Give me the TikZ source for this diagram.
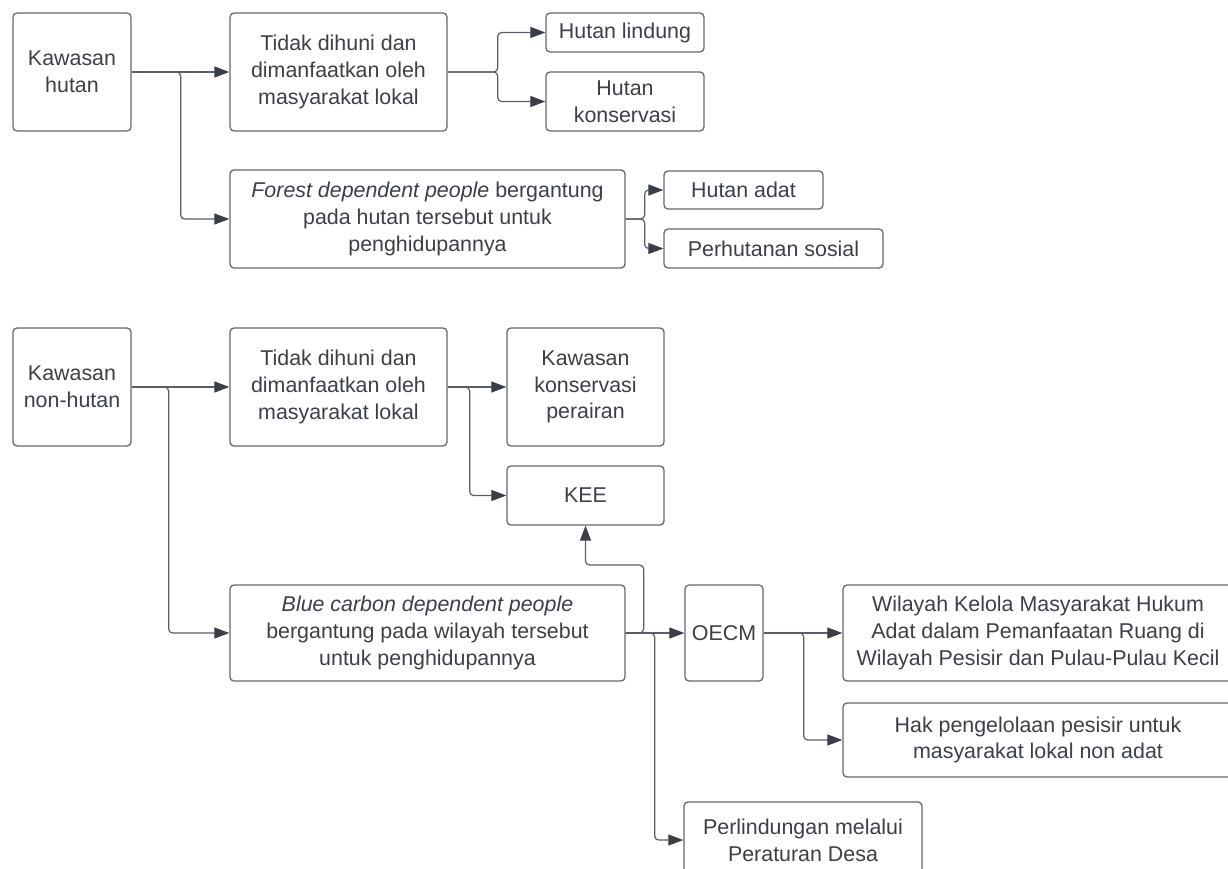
\documentclass[tikz,border=0pt]{standalone}
\usepackage{fontspec}
\setmainfont{Liberation Sans}
\usetikzlibrary{arrows.meta}
\definecolor{txt}{HTML}{3B3F47}
\definecolor{bord}{HTML}{63676E}
\definecolor{lin}{HTML}{5A5E66}
\definecolor{tip}{HTML}{3A3E47}
\tikzset{
  box/.style={draw=bord, line width=1.3pt, rounded corners=4pt, inner sep=0pt,
    align=center, text=txt, font=\fontsize{21.4}{26.7}\selectfont},
  conn/.style={draw=lin, line width=1.2pt, rounded corners=4pt,
    -{Triangle[length=15pt,width=11pt,fill=tip,color=tip]}},
}
\begin{document}
\begin{tikzpicture}[x=1pt,y=-1pt]
\useasboundingbox (0,0) rectangle (1228,869);
% top section
\node[box, minimum width=118pt, minimum height=118pt] (kh) at (72,72) {Kawasan\\hutan};
\node[box, minimum width=217pt, minimum height=118pt] (t1) at (338.5,72) {Tidak dihuni dan\\dimanfaatkan oleh\\masyarakat lokal};
\node[box, minimum width=395pt, minimum height=98pt] (fd) at (427.5,219) {\textit{Forest dependent people} bergantung\\pada hutan tersebut untuk\\penghidupannya};
\node[box, minimum width=158pt, minimum height=39pt] (hl) at (625,32.5) {Hutan lindung};
\node[box, minimum width=158pt, minimum height=59pt] (hk) at (625,101.5) {Hutan\\konservasi};
\node[box, minimum width=159pt, minimum height=38pt] (ha) at (743.5,190) {Hutan adat};
\node[box, minimum width=219pt, minimum height=39pt] (ps) at (773.5,248.5) {Perhutanan sosial};
% bottom section
\node[box, minimum width=118pt, minimum height=118pt] (knh) at (72,387) {Kawasan\\non-hutan};
\node[box, minimum width=217pt, minimum height=118pt] (t2) at (338.5,387) {Tidak dihuni dan\\dimanfaatkan oleh\\masyarakat lokal};
\node[box, minimum width=157pt, minimum height=118pt] (kkp) at (585.5,387) {Kawasan\\konservasi\\perairan};
\node[box, minimum width=157pt, minimum height=59pt] (kee) at (585.5,495.5) {KEE};
\node[box, minimum width=395pt, minimum height=96pt] (bc) at (427.5,633) {\textit{Blue carbon dependent people}\\bergantung pada wilayah tersebut\\untuk penghidupannya};
\node[box, minimum width=78pt, minimum height=96pt] (oecm) at (724,633) {OECM};
\node[box, minimum width=390pt, minimum height=96pt] (wil) at (1038,633) {Wilayah Kelola Masyarakat Hukum\\Adat dalam Pemanfaatan Ruang di\\Wilayah Pesisir dan Pulau-Pulau Kecil};
\node[box, minimum width=390pt, minimum height=74pt] (hak) at (1038,740) {Hak pengelolaan pesisir untuk\\masyarakat lokal non adat};
\node[box, minimum width=238pt, minimum height=76pt] (per) at (803,840) {Perlindungan melalui\\Peraturan Desa};
% connectors top
\draw[conn] (kh.east) -- (t1.west);
\draw[conn] (kh.east) -- ++(49,0) |- (fd.west);
\draw[conn] (t1.east) -- ++(50,0) |- (hl.west);
\draw[conn] (t1.east) -- ++(50,0) |- (hk.west);
\draw[conn] (fd.east) -- ++(19,0) |- (ha.west);
\draw[conn] (fd.east) -- ++(19,0) |- (ps.west);
% connectors bottom
\draw[conn] (knh.east) -- (t2.west);
\draw[conn] (knh.east) -- ++(37,0) |- (bc.west);
\draw[conn] (t2.east) -- (kkp.west);
\draw[conn] (t2.east) -- ++(22,0) |- (kee.west);
\draw[conn] (bc.east) -- (oecm.west);
\draw[conn] (bc.east) -- ++(18,0) -- ++(0,-68) -| (kee.south);
\draw[conn] (bc.east) -- ++(29,0) |- (per.west);
\draw[conn] (oecm.east) -- (wil.west);
\draw[conn] (oecm.east) -- ++(40,0) |- (hak.west);
\end{tikzpicture}
\end{document}
